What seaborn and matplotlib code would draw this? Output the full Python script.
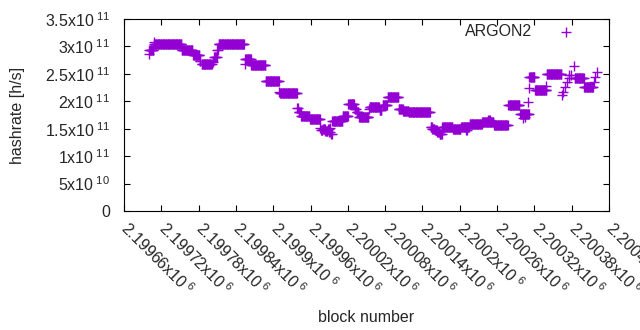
import numpy as np
import pandas as pd
import matplotlib
matplotlib.use("Agg")
import matplotlib.pyplot as plt
import matplotlib.transforms as mtransforms
import seaborn as sns

# runs of blocks with the same hashrate: first block, last block, hashrate [1e11 h/s]
seg_start = [2199700, 2199701, 2199708, 2199709, 2199753, 2199771, 2199782, 2199785,
             2199803, 2199805, 2199810, 2199812, 2199854, 2199855, 2199865, 2199888,
             2199910, 2199911, 2199916, 2199939, 2199941, 2199945, 2199959,
             2199976, 2199977, 2199980, 2199984, 2199988, 2199990, 2199992, 2199993,
             2199995, 2200012, 2200021, 2200031, 2200034, 2200038, 2200054, 2200055,
             2200071, 2200076, 2200084, 2200102, 2200109, 2200118,
             2200153, 2200156, 2200160, 2200164, 2200168,
             2200172, 2200189, 2200202, 2200210, 2200216, 2200236, 2200246, 2200255,
             2200278, 2200297, 2200302, 2200305, 2200309, 2200311, 2200312, 2200321,
             2200338, 2200340, 2200364, 2200366, 2200370, 2200373, 2200375, 2200376,
             2200379, 2200384, 2200385, 2200400, 2200416, 2200418, 2200420]
seg_end = [2199700, 2199707, 2199708, 2199752, 2199770, 2199781, 2199783, 2199801,
           2199803, 2199809, 2199811, 2199853, 2199854, 2199864, 2199887, 2199909,
           2199910, 2199915, 2199938, 2199940, 2199944, 2199958, 2199975,
           2199976, 2199979, 2199983, 2199987, 2199989, 2199991, 2199992, 2199994,
           2200011, 2200020, 2200030, 2200033, 2200037, 2200053, 2200054, 2200070,
           2200074, 2200083, 2200101, 2200108, 2200117, 2200152,
           2200155, 2200159, 2200163, 2200167, 2200171,
           2200188, 2200201, 2200215, 2200211, 2200235, 2200254, 2200248, 2200277,
           2200296, 2200311, 2200302, 2200305, 2200309, 2200311, 2200320, 2200339,
           2200338, 2200363, 2200364, 2200366, 2200370, 2200373, 2200375, 2200376,
           2200379, 2200384, 2200399, 2200414, 2200416, 2200418, 2200420]
seg_hash = [2.857, 2.935, 3.075, 3.04, 2.93, 2.835, 2.73, 2.674,
            2.72, 2.80, 2.935, 3.04, 2.674, 2.765, 2.656, 2.364,
            2.175, 2.16, 2.145, 1.87, 1.80, 1.73, 1.668,
            1.52, 1.47, 1.50, 1.45, 1.49, 1.44, 1.52, 1.40,
            1.632, 1.726, 1.945, 1.86, 1.80, 1.714, 1.854, 1.89,
            1.84, 1.927, 2.073, 1.865, 1.828, 1.80,
            1.54, 1.50, 1.47, 1.44, 1.41,
            1.526, 1.49, 1.526, 1.47, 1.586, 1.628, 1.66, 1.568,
            1.93, 1.77, 1.69, 1.72, 1.99, 2.25, 2.45, 2.206,
            2.28, 2.49, 2.115, 2.175, 2.266, 2.357, 2.48, 2.42,
            2.48, 2.64, 2.42, 2.266, 2.357, 2.448, 2.54]

x_ticks = [2199660, 2199720, 2199780, 2199840, 2199900, 2199960, 2200020,
           2200080, 2200140, 2200200, 2200260, 2200320, 2200380, 2200440]
x_labels = ["2.19966", "2.19972", "2.19978", "2.19984", "2.1999", "2.19996", "2.20002",
            "2.20008", "2.20014", "2.2002", "2.20026", "2.20032", "2.20038", "2.20044"]
y_ticks = [0, 5e10, 1e11, 1.5e11, 2e11, 2.5e11, 3e11, 3.5e11]
y_labels = ["0", r"5x10$^{\ 10}$", r"1x10$^{\ 11}$", r"1.5x10$^{\ 11}$", r"2x10$^{\ 11}$",
            r"2.5x10$^{\ 11}$", r"3x10$^{\ 11}$", r"3.5x10$^{\ 11}$"]

blocks = np.concatenate([np.arange(s, e + 1) for s, e in zip(seg_start, seg_end)])
rates = np.concatenate([np.full(e - s + 1, h * 1e11) for s, e, h in zip(seg_start, seg_end, seg_hash)])
df = pd.DataFrame({"block": blocks, "hashrate": rates})

sns.set_theme(style="ticks")
plt.rcParams["font.family"] = ["Liberation Sans", "DejaVu Sans"]
plt.rcParams["mathtext.fontset"] = "custom"
plt.rcParams["mathtext.rm"] = "Liberation Sans"
plt.rcParams["mathtext.it"] = "Liberation Sans"
plt.rcParams["font.size"] = 11.5

fig, ax = plt.subplots(figsize=(6.4, 3.3), dpi=100)
fig.subplots_adjust(left=124 / 640, right=609 / 640, top=1 - 19 / 330, bottom=1 - 211 / 330)

sns.scatterplot(data=df, x="block", y="hashrate", marker="+", color="#9400d3",
                s=45, linewidth=1.0, label="ARGON2", ax=ax)

ax.set_xlim(2199660, 2200440)
ax.set_ylim(0, 3.5e11)
ax.set_xticks(x_ticks)
ax.set_yticks(y_ticks)
ax.set_yticklabels(y_labels, fontsize=11.5)
ax.tick_params(direction="in", length=4.5, width=0.8, top=True, right=True, color="black")
ax.tick_params(axis="y", pad=10)
ax.tick_params(axis="x", labelbottom=False)

# rotated x tick labels, placed like gnuplot's "rotate by -45"
off = mtransforms.ScaledTranslation(7 / 100, -7 / 100, fig.dpi_scale_trans)
for t, lab in zip(x_ticks, x_labels):
    ax.text(t, 0, lab + r"x10$^{\ 6}$", transform=ax.get_xaxis_transform() + off,
            rotation=-45, rotation_mode="anchor", ha="left", va="top",
            fontsize=11.5, clip_on=False)

for sp in ax.spines.values():
    sp.set_visible(True)
    sp.set_linewidth(0.8)
    sp.set_color("black")

ax.set_xlabel("block number", fontsize=11.5, va="center")
ax.xaxis.set_label_coords(0.5, -(317 - 211) / 192)
ax.set_ylabel("hashrate [h/s]", fontsize=11.5, va="center")
ax.yaxis.set_label_coords((17.5 - 124) / 485, 0.5)

ax.legend(loc="center right", bbox_to_anchor=(582 / 640, 1 - 32 / 330),
          bbox_transform=fig.transFigure, frameon=False, markerfirst=False,
          handlelength=2, handletextpad=1.15, borderpad=0, borderaxespad=0, fontsize=11.5)

fig.savefig("out.png", dpi=100)
